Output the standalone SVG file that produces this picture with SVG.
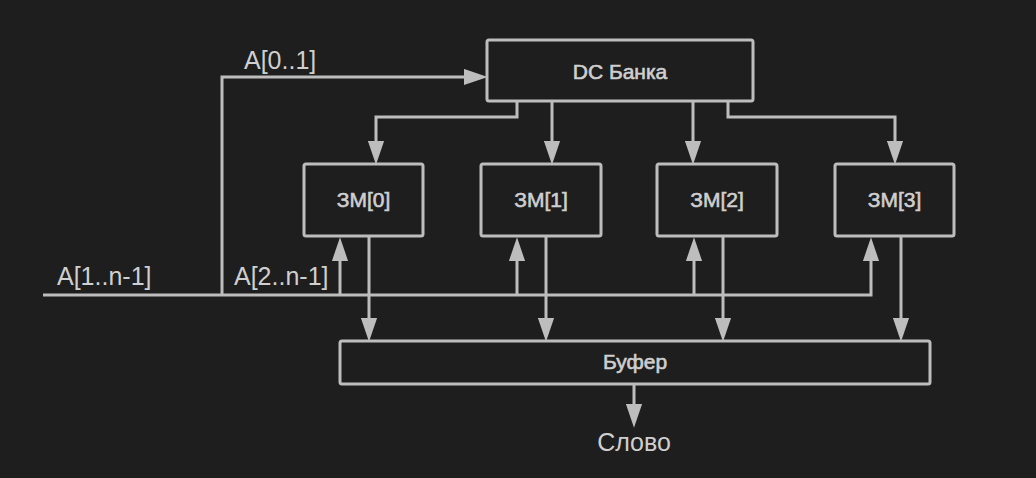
<svg xmlns="http://www.w3.org/2000/svg" width="1036" height="478" viewBox="0 0 1036 478">
  <style>
    .node rect { fill: #1e1e1e; stroke: #bdbdbd; stroke-width: 3; }
    .node text { fill: #cfcfcf; stroke: #cfcfcf; stroke-width: 0.6; font-family: "Liberation Sans", Arial, sans-serif; font-size: 21px; text-anchor: middle; }
    .wire { fill: none; stroke: #bdbdbd; stroke-width: 3; }
    .lbl { fill: #cfcfcf; font-family: "Liberation Sans", Arial, sans-serif; font-size: 25px; }
  </style>
  <defs>
    <marker id="arrow" markerUnits="userSpaceOnUse" markerWidth="24" markerHeight="17" viewBox="0 0 22 15" refX="14" refY="7.5" orient="auto">
      <path d="M0,0 L22,7.5 L0,15 z" fill="#bdbdbd"/>
    </marker>
  </defs>
  <rect width="1036" height="478" fill="#1e1e1e"/>

  <!-- connectors -->
  <g id="connectors" class="wire" marker-end="url(#arrow)">
    <!-- address bus and its branch to the bank decoder -->
    <path d="M43,295 H871 V246"/>
    <path d="M222,295 V77 H479"/>
    <path d="M340,295 V246"/>
    <path d="M517,295 V246"/>
    <path d="M694,295 V246"/>
    <!-- bank select lines -->
    <path d="M517,101 V117 H376 V156"/>
    <path d="M552,101 V156"/>
    <path d="M693,101 V156"/>
    <path d="M728,101 V117 H895 V156"/>
    <!-- module outputs to buffer -->
    <path d="M369,236 V333"/>
    <path d="M546,236 V333"/>
    <path d="M723,236 V333"/>
    <path d="M901,236 V333"/>
    <!-- buffer output -->
    <path d="M634,384 V419"/>
  </g>

  <!-- edge labels -->
  <g id="labels">
    <text class="lbl" x="244" y="69">A[0..1]</text>
    <text class="lbl" x="57" y="285">A[1..n-1]</text>
    <text class="lbl" x="234" y="285">A[2..n-1]</text>
    <text class="lbl" x="634" y="451" text-anchor="middle">Слово</text>
  </g>

  <!-- nodes -->
  <g id="dc" class="node">
    <rect x="487" y="40" width="266" height="61" rx="2"/>
    <text x="620" y="79">DC Банка</text>
  </g>
  <g id="zm0" class="node">
    <rect x="304" y="164" width="119" height="72" rx="2"/>
    <text x="363.5" y="207">ЗМ[0]</text>
  </g>
  <g id="zm1" class="node">
    <rect x="481" y="164" width="120" height="72" rx="2"/>
    <text x="541" y="207">ЗМ[1]</text>
  </g>
  <g id="zm2" class="node">
    <rect x="657" y="164" width="120" height="72" rx="2"/>
    <text x="717" y="207">ЗМ[2]</text>
  </g>
  <g id="zm3" class="node">
    <rect x="835" y="164" width="119" height="72" rx="2"/>
    <text x="894.5" y="207">ЗМ[3]</text>
  </g>
  <g id="buffer" class="node">
    <rect x="340" y="341" width="590" height="43" rx="2"/>
    <text x="635" y="369">Буфер</text>
  </g>
</svg>
